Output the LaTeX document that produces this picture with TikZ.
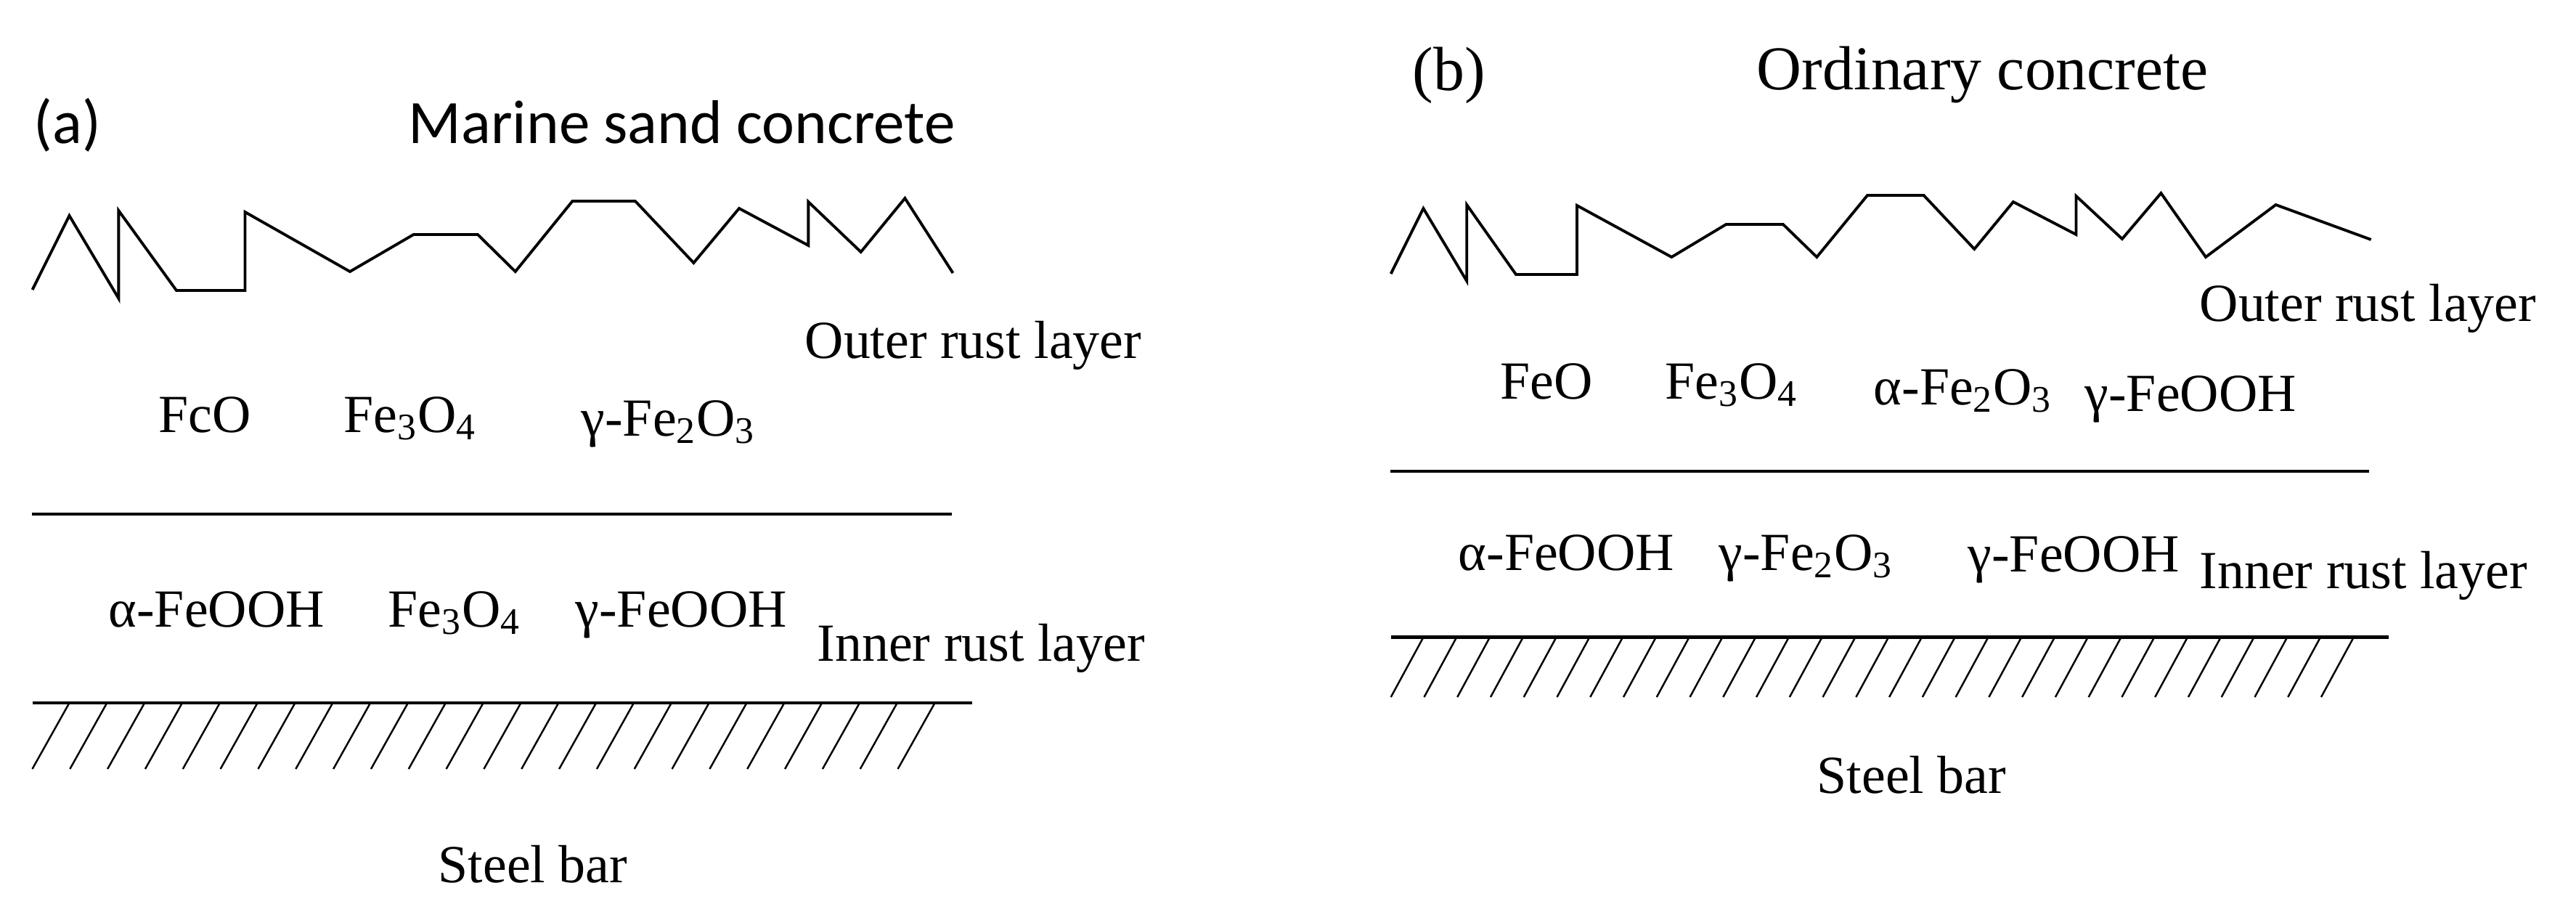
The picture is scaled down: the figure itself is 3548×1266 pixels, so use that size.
\documentclass[tikz,border=0pt]{standalone}
\usepackage{fontspec}
\setmainfont{Liberation Serif}
\newfontfamily\ttlfont{Carlito}
\usetikzlibrary{positioning, calc}
\tikzset{
  lbl/.style    = {font=\fontsize{21}{25}\selectfont, inner sep=0pt, anchor=base west},
  ttl/.style    = {font=\fontsize{24.4}{29}\selectfont, inner sep=0pt, anchor=base west},
  ttlsans/.style= {font=\ttlfont\fontsize{24.2}{29}\selectfont, inner sep=0pt, anchor=base west},
  rough/.style  = {line width=1.1pt, line join=miter},
  border/.style = {line width=1.4pt},
  hatch/.style  = {line width=0.7pt}
}

\begin{document}
\begin{tikzpicture}[x=0.01cm, y=-0.01cm]
  \useasboundingbox (0,0) rectangle (3548,1266);

  % ── (a) marine sand concrete ──────────────────────────────────────────────
  \node[ttlsans] (tagA) at (46,197)  {(a)};
  \node[ttlsans] (ttlA) at (562,197) {Marine sand concrete};

  % concrete / outer rust boundary
  \draw[rough] (44.6,399) -- (95.5,297) -- (163.4,411) -- (163.4,290)
        -- (243,400) -- (337.5,400) -- (337.5,292) -- (482,374)
        -- (569.6,323) -- (658,323) -- (709.8,374) -- (788.4,277)
        -- (875,277) -- (955.4,362) -- (1018,287) -- (1113.4,338)
        -- (1113.4,278) -- (1185.7,347) -- (1246.4,273) -- (1312.5,376);

  \node[lbl] (outerA) at (1108,493) {Outer rust layer};
  \node[lbl] (feoA)   at (218,595)  {FcO};
  \node[lbl] (magA)   at (473,595)  {Fe\textsubscript{3}O\textsubscript{4}};
  \node[lbl] (gfeA)   at (800,600)  {γ-Fe\textsubscript{2}O\textsubscript{3}};

  % outer / inner boundary
  \coordinate (divA-w) at (44,708);
  \coordinate (divA-e) at (1311,708);
  \draw[border] (divA-w) -- (divA-e);

  \node[lbl] (afeA)   at (149,863)  {α-FeOOH};
  \node[lbl] (mag2A)  at (534,863)  {Fe\textsubscript{3}O\textsubscript{4}};
  \node[lbl] (gooA)   at (792,863)  {γ-FeOOH};
  \node[lbl] (innerA) at (1125,910) {Inner rust layer};

  % steel surface
  \coordinate (steelA-w) at (44.6,968);
  \coordinate (steelA-e) at (1339,968);
  \draw[border] (steelA-w) -- (steelA-e);
  \foreach \i in {0,...,23}
    \draw[hatch] (95.5+51.83*\i,968) -- ++(-51,91);

  \node[lbl] (steelA) at (603,1215) {Steel bar};

  % ── (b) ordinary concrete ─────────────────────────────────────────────────
  \node[ttl] (tagB) at (1945,124) {(b)};
  \node[ttl] (ttlB) at (2419,123) {Ordinary concrete};

  \draw[rough] (1915.7,377) -- (1960.4,287) -- (2020.2,387) -- (2020.2,282)
        -- (2088,378) -- (2172,378) -- (2172,283) -- (2302.3,354)
        -- (2377.3,309) -- (2455.9,309) -- (2502.3,354) -- (2572,269)
        -- (2649.6,269) -- (2719.3,343) -- (2772.9,278) -- (2859.5,323)
        -- (2859.5,270) -- (2922.9,329) -- (2976.4,266) -- (3038,354)
        -- (3134.5,282) -- (3265.7,330);

  \node[lbl] (outerB) at (3029,442) {Outer rust layer};
  \node[lbl] (feoB)   at (2066,549) {FeO};
  \node[lbl] (magB)   at (2293,549) {Fe\textsubscript{3}O\textsubscript{4}};
  \node[lbl] (afeB)   at (2580,557) {α-Fe\textsubscript{2}O\textsubscript{3}};
  \node[lbl] (gooB)   at (2871,566) {γ-FeOOH};

  \coordinate (divB-w) at (1915,649);
  \coordinate (divB-e) at (3263,649);
  \draw[border] (divB-w) -- (divB-e);

  \node[lbl] (afe2B)  at (2008,785) {α-FeOOH};
  \node[lbl] (gfeB)   at (2367,785) {γ-Fe\textsubscript{2}O\textsubscript{3}};
  \node[lbl] (goo2B)  at (2710,787) {γ-FeOOH};
  \node[lbl] (innerB) at (3029,810) {Inner rust layer};

  \coordinate (steelB-w) at (1915.7,877.7);
  \coordinate (steelB-e) at (3290,877.7);
  \draw[border] (steelB-w) -- (steelB-e);
  \foreach \i in {0,...,28}
    \draw[hatch] (1960.4+45.76*\i,877.7) -- ++(-44.7,82.3);

  \node[lbl] (steelB) at (2502,1092) {Steel bar};

\end{tikzpicture}
\end{document}
